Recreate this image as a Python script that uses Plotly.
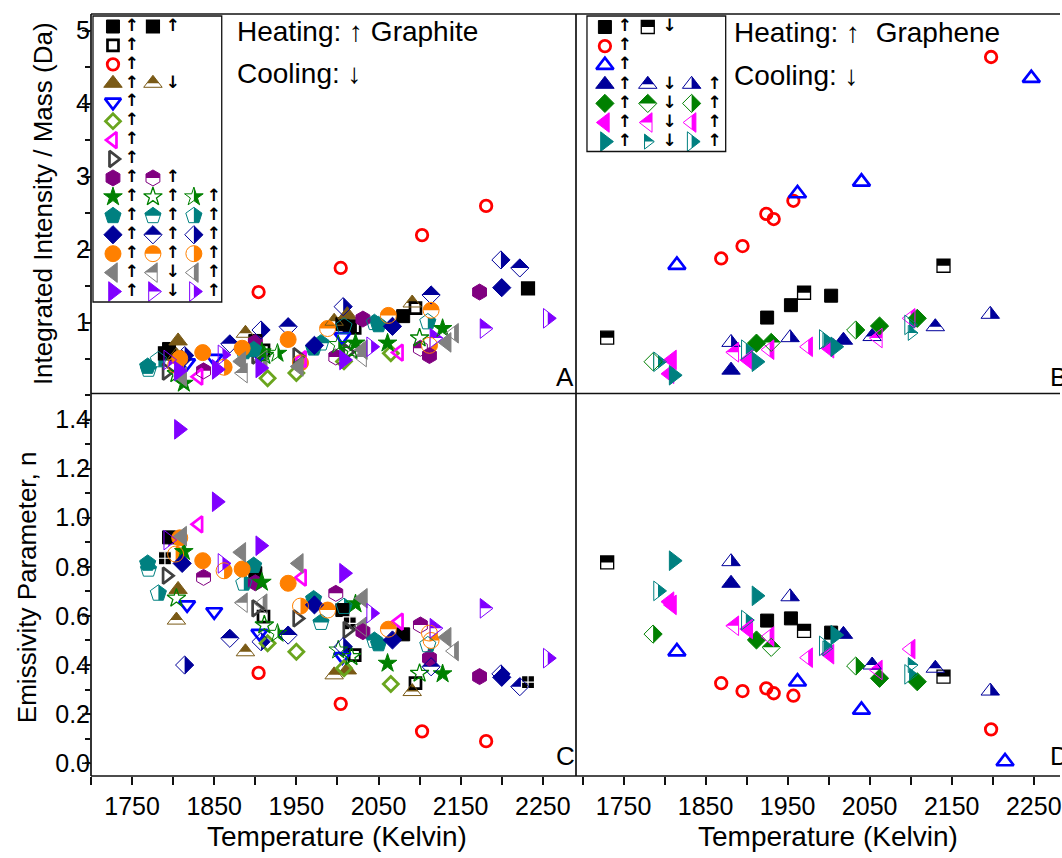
import math
import plotly.graph_objects as go

# ---------------- data : graphite (panels A and C) ----------------
g_sq1_T=[1795,1900,2006,2080]; g_sq1_I=[0.64,0.75,0.98,1.09]; g_sq1_N=[0.92,0.774,0.624,0.525]
g_sq2_T=[1790,2015,2232]; g_sq2_I=[0.58,0.95,1.47]; g_sq2_N=[0.835,0.57,0.33]
g_sqo_T=[1910,2021,2095]; g_sqo_I=[0.62,0.93,1.20]; g_sqo_N=[0.597,0.44,0.326]
g_cir_T=[1904,2004,2103,2181]; g_cir_I=[1.42,1.75,2.20,2.60]; g_cir_N=[0.368,0.242,0.13,0.09]
g_tri_T=[1806,2012]; g_tri_I=[0.75,1.11]; g_tri_N=[0.708,0.38]
g_trit_T=[1804,1888,1996,2091]; g_trit_I=[0.55,0.855,1.02,1.27]; g_trit_N=[0.583,0.454,0.36,0.292]
g_dtr_T=[1817,1850,1905,2006]; g_dtr_I=[0.45,0.51,0.56,0.81]; g_dtr_N=[0.645,0.617,0.529,0.434]
g_dio_T=[1915,1950,2008,2065]; g_dio_I=[0.24,0.31,0.47,0.58]; g_dio_N=[0.489,0.454,0.387,0.323]
g_lto_T=[1831,1957,2075]; g_lto_I=[0.26,0.50,0.59]; g_lto_N=[0.973,0.756,0.577]
g_rto_T=[1792,1901,1951,2012]; g_rto_I=[0.33,0.55,0.54,0.60]; g_rto_N=[0.764,0.631,0.590,0.543]
g_hex_T=[1900,2031,2112,2173]; g_hex_I=[0.73,1.05,0.55,1.42]; g_hex_N=[0.735,0.536,0.428,0.353]
g_hext_T=[1837,1998,2101]; g_hext_I=[0.34,0.53,0.65]; g_hext_N=[0.757,0.692,0.563]
g_sta_T=[1813,1908,2022,2061,2128]; g_sta_I=[0.17,0.60,0.72,0.72,0.92]; g_sta_N=[0.862,0.737,0.649,0.407,0.364]
g_stao_T=[1804,1911,2017,2100]; g_stao_I=[0.30,0.55,0.62,0.79]; g_stao_N=[0.672,0.563,0.434,0.366]
g_star_T=[1927,2001]; g_star_I=[0.58,0.70]; g_star_N=[0.529,0.461]
g_pen_T=[1769,1898,1971,2050]; g_pen_I=[0.40,0.63,0.65,0.97]; g_pen_N=[0.814,0.805,0.669,0.486]
g_pent_T=[1770,1980,2045]; g_pent_I=[0.36,0.72,1.00]; g_pent_N=[0.79,0.573,0.50]
g_penr_T=[1782,1886,2008,2110]; g_penr_I=[0.49,0.60,0.95,1.01]; g_penr_N=[0.692,0.733,0.638,0.482]
g_dia_T=[1811,1972,2067,2200]; g_dia_I=[0.50,0.69,0.95,1.48]; g_dia_N=[0.814,0.645,0.502,0.35]
g_diat_T=[1869,1940,2114,2222]; g_diat_I=[0.71,0.945,1.38,1.75]; g_diat_N=[0.509,0.522,0.393,0.312]
g_diar_T=[1814,1907,2007,2199]; g_diar_I=[0.55,0.90,1.22,1.86]; g_diar_N=[0.400,0.495,0.475,0.364]
g_orc_T=[1808,1836,1884,1940]; g_orc_I=[0.51,0.59,0.65,0.77]; g_orc_N=[0.918,0.825,0.791,0.733]
g_orct_T=[1988,2062,2114]; g_orct_I=[0.92,1.10,1.17]; g_orct_N=[0.624,0.546,0.50]
g_orcr_T=[1803,1862,1955,2112]; g_orcr_I=[0.42,0.39,0.45,0.69]; g_orcr_N=[0.852,0.784,0.640,0.53]
g_glt_T=[1811,1883,1953,2031,2133]; g_glt_I=[0.26,0.47,0.40,0.63,0.73]; g_glt_N=[0.925,0.859,0.814,0.672,0.513]
g_gltt_T=[1885,2030]; g_gltt_I=[0.31,0.53]; g_gltt_N=[0.654,0.556]
g_gltr_T=[1909,2142]; g_gltr_I=[0.49,0.855]; g_gltr_N=[0.65,0.457]
g_vrt_T=[1807,1853,1906,2008]; g_vrt_I=[0.34,0.36,0.38,0.49]; g_vrt_N=[1.36,1.065,0.886,0.774]
g_vrtt_T=[2118,2179]; g_vrtt_I=[0.79,0.92]; g_vrtt_N=[0.550,0.631]
g_vrtr_T=[1794,1860,2041,2256]; g_vrtr_I=[0.49,0.56,0.67,1.06]; g_vrtr_N=[0.909,0.814,0.611,0.428]

# ---------------- data : graphene (panels B and D) ----------------
e_sq_T=[1925,1954,2003]; e_sq_I=[1.07,1.24,1.37]; e_sq_N=[0.581,0.590,0.532]
e_sqt_T=[1730,1970,2140]; e_sqt_I=[0.795,1.41,1.78]; e_sqt_N=[0.818,0.539,0.353]
e_cir_T=[1869,1895,1924,1933,1957,2198]; e_cir_I=[1.88,2.05,2.49,2.42,2.67,4.64]; e_cir_N=[0.326,0.294,0.305,0.285,0.275,0.138]
e_tro_T=[1815,1962,2040,2247]; e_tro_I=[1.79,2.77,2.93,4.35]
e_tro_TN=[1815,1962,2040,2215]; e_tro_N=[0.455,0.332,0.217,0.007]
e_tri_T=[1881,2018]; e_tri_I=[0.35,0.76]; e_tri_N=[0.733,0.525]
e_trit_T=[2053,2130]; e_trit_I=[0.81,0.945]; e_trit_N=[0.40,0.387]
e_trir_T=[1881,1953,2197]; e_trir_I=[0.73,0.795,1.115]; e_trir_N=[0.821,0.678,0.294]
e_dia_T=[1912,2062,2108]; e_dia_I=[0.72,0.955,1.06]; e_dia_N=[0.502,0.346,0.332]
e_diat_T=[1930]; e_diat_I=[0.73]; e_diat_N=[0.472]
e_diar_T=[1786,2033]; e_diar_I=[0.465,0.90]; e_diar_N=[0.526,0.396]
e_lt_T=[1806,1809,1902,2001]; e_lt_I=[0.30,0.49,0.49,0.65]; e_lt_N=[0.658,0.645,0.547,0.444]
e_ltt_T=[1885,2060]; e_ltt_I=[0.595,0.79]; e_ltt_N=[0.56,0.38]
e_ltr_T=[1928,1975,2100]; e_ltr_I=[0.63,0.67,1.06]; e_ltr_N=[0.516,0.43,0.465]
e_rt_T=[1811,1912,2008]; e_rt_I=[0.28,0.465,0.67]; e_rt_N=[0.825,0.682,0.522]
e_rtt_T=[1997,2101]; e_rtt_I=[0.76,0.86]; e_rtt_N=[0.468,0.40]
e_rtr_T=[1792,1899,1994,2098]; e_rtr_I=[0.465,0.63,0.77,0.97]; e_rtr_N=[0.702,0.583,0.478,0.362]

# axis ticks
Y_TOP_TICKS = [1, 2, 3, 4, 5]
Y_BOT_TICKS = [0.0, 0.2, 0.4, 0.6, 0.8, 1.0, 1.2, 1.4]
Y_TOP_TITLE = "Integrated Intensity / Mass (Da)"
Y_BOT_TITLE = "Emissivity Parameter, n"
X_TITLE = "Temperature (Kelvin)"

# ---------------- styles ----------------
BLACK='#000000'; RED='#ff0000'; BROWN='#7a5a16'; BLUE='#0000ff'; YG='#6aa51e'; MAG='#ff00ff'
DGRAY='#404040'; PURPLE='#800080'; GREEN='#008000'; TEAL='#008080'; NAVY='#00009a'
ORANGE='#ff8000'; GRAY='#808080'; VIOLET='#8000ff'

# (T, I, N, symbol, colour, fill, size, linewidth, legend row, legend col, arrow)
GRAPHITE = [
    (g_sq1_T,g_sq1_I,g_sq1_N,'square',BLACK,'full',13,1,0,0,'↑'),
    (g_sq2_T,g_sq2_I,g_sq2_N,'square',BLACK,'cross',13,1.2,0,1,'↑'),
    (g_sqo_T,g_sqo_I,g_sqo_N,'square',BLACK,'open',11,2.7,1,0,'↑'),
    (g_cir_T,g_cir_I,g_cir_N,'circle',RED,'open',11.5,2.8,2,0,'↑'),
    (g_tri_T,g_tri_I,g_tri_N,'triangle-up',BROWN,'full',16,1,3,0,'↑'),
    (g_trit_T,g_trit_I,g_trit_N,'triangle-up',BROWN,'top',16,1,3,1,'↓'),
    (g_dtr_T,g_dtr_I,g_dtr_N,'triangle-down',BLUE,'open',14,2.7,4,0,'↑'),
    (g_dio_T,g_dio_I,g_dio_N,'diamond',YG,'open',11.5,2.8,5,0,'↑'),
    (g_lto_T,g_lto_I,g_lto_N,'triangle-left',MAG,'open',14,2.7,6,0,'↑'),
    (g_rto_T,g_rto_I,g_rto_N,'triangle-right',DGRAY,'open',14,2.7,7,0,'↑'),
    (g_hex_T,g_hex_I,g_hex_N,'hexagon',PURPLE,'full',16,1,8,0,'↑'),
    (g_hext_T,g_hext_I,g_hext_N,'hexagon',PURPLE,'top',16,1,8,1,'↑'),
    (g_sta_T,g_sta_I,g_sta_N,'star',GREEN,'full',14,1,9,0,'↑'),
    (g_stao_T,g_stao_I,g_stao_N,'star',GREEN,'open',14,1.3,9,1,'↑'),
    (g_star_T,g_star_I,g_star_N,'star',GREEN,'right',14,1,9,2,'↑'),
    (g_pen_T,g_pen_I,g_pen_N,'pentagon',TEAL,'full',17,1,10,0,'↑'),
    (g_pent_T,g_pent_I,g_pent_N,'pentagon',TEAL,'top',17,1,10,1,'↑'),
    (g_penr_T,g_penr_I,g_penr_N,'pentagon',TEAL,'right',17,1,10,2,'↑'),
    (g_dia_T,g_dia_I,g_dia_N,'diamond',NAVY,'full',14,1,11,0,'↑'),
    (g_diat_T,g_diat_I,g_diat_N,'diamond',NAVY,'top',14,1,11,1,'↑'),
    (g_diar_T,g_diar_I,g_diar_N,'diamond',NAVY,'right',14,1,11,2,'↑'),
    (g_orc_T,g_orc_I,g_orc_N,'circle',ORANGE,'full',16,1,12,0,'↑'),
    (g_orct_T,g_orct_I,g_orct_N,'circle',ORANGE,'top',16,1,12,1,'↑'),
    (g_orcr_T,g_orcr_I,g_orcr_N,'circle',ORANGE,'right',16,1,12,2,'↑'),
    (g_glt_T,g_glt_I,g_glt_N,'triangle-left',GRAY,'full',17,1,13,0,'↑'),
    (g_gltt_T,g_gltt_I,g_gltt_N,'triangle-left',GRAY,'top',17,1,13,1,'↓'),
    (g_gltr_T,g_gltr_I,g_gltr_N,'triangle-left',GRAY,'right',17,1,13,2,'↑'),
    (g_vrt_T,g_vrt_I,g_vrt_N,'triangle-right',VIOLET,'full',17,1,14,0,'↑'),
    (g_vrtt_T,g_vrtt_I,g_vrtt_N,'triangle-right',VIOLET,'top',17,1,14,1,'↓'),
    (g_vrtr_T,g_vrtr_I,g_vrtr_N,'triangle-right',VIOLET,'right',17,1,14,2,'↑'),
]
GRAPHENE = [
    (e_sq_T,e_sq_I,e_sq_N,'square',BLACK,'full',13,1,0,0,'↑'),
    (e_sqt_T,e_sqt_I,e_sqt_N,'square',BLACK,'top',13,1.3,0,1,'↓'),
    (e_cir_T,e_cir_I,e_cir_N,'circle',RED,'open',11.5,2.8,1,0,'↑'),
    (e_tro_T,e_tro_I,e_tro_N,'triangle-up',BLUE,'open',15,2.7,2,0,'↑'),
    (e_tri_T,e_tri_I,e_tri_N,'triangle-up',NAVY,'full',16,1,3,0,'↑'),
    (e_trit_T,e_trit_I,e_trit_N,'triangle-up',NAVY,'top',16,1,3,1,'↓'),
    (e_trir_T,e_trir_I,e_trir_N,'triangle-up',NAVY,'right',16,1,3,2,'↑'),
    (e_dia_T,e_dia_I,e_dia_N,'diamond',GREEN,'full',14,1,4,0,'↑'),
    (e_diat_T,e_diat_I,e_diat_N,'diamond',GREEN,'top',14,1,4,1,'↓'),
    (e_diar_T,e_diar_I,e_diar_N,'diamond',GREEN,'right',14,1,4,2,'↑'),
    (e_lt_T,e_lt_I,e_lt_N,'triangle-left',MAG,'full',17,1,5,0,'↑'),
    (e_ltt_T,e_ltt_I,e_ltt_N,'triangle-left',MAG,'top',17,1,5,1,'↓'),
    (e_ltr_T,e_ltr_I,e_ltr_N,'triangle-left',MAG,'right',17,1,5,2,'↑'),
    (e_rt_T,e_rt_I,e_rt_N,'triangle-right',TEAL,'full',17,1,6,0,'↑'),
    (e_rtt_T,e_rtt_I,e_rtt_N,'triangle-right',TEAL,'top',13,1,6,1,'↓'),
    (e_rtr_T,e_rtr_I,e_rtr_N,'triangle-right',TEAL,'right',17,1,6,2,'↑'),
]
TN_OVERRIDE = {id(e_tro_T): e_tro_TN}

# ---------------- geometry ----------------
W, H = 1062, 858
ML, MT, MB = 91, 14, 82
PW, PH = W - ML, H - MT - MB
def fx(p): return (p - ML) / PW
def fy(p): return (H - MB - p) / PH
XS = fx(577)
YS = fy(393.5)
FONT = "Liberation Sans, Arial, sans-serif"

def sym_poly(sym, size):
    r = size / 2.0
    if sym == 'square':
        return [(r, r), (-r, r), (-r, -r), (r, -r)]
    if sym == 'circle':
        return [(r*math.cos(2*math.pi*k/48), r*math.sin(2*math.pi*k/48)) for k in range(48)]
    if sym == 'diamond':
        d = 1.3 * r
        return [(d, 0), (0, d), (-d, 0), (0, -d)]
    rt = r * 2 / math.sqrt(3); r2 = r / 2
    if sym == 'triangle-up':
        return [(-rt, r2), (rt, r2), (0, -r)]
    if sym == 'triangle-down':
        return [(-rt, -r2), (rt, -r2), (0, r)]
    if sym == 'triangle-left':
        return [(r2, -rt), (r2, rt), (-r, 0)]
    if sym == 'triangle-right':
        return [(-r2, -rt), (-r2, rt), (r, 0)]
    if sym == 'pentagon':
        x1, x2 = .951*r, .588*r
        return [(x1, -.309*r), (x2, .809*r), (-x2, .809*r), (-x1, -.309*r), (0, -r)]
    if sym == 'hexagon':
        x = r*math.sqrt(3)/2; y2 = r/2
        return [(x, -y2), (x, y2), (0, r), (-x, y2), (-x, -y2), (0, -r)]
    if sym == 'star':
        rs = 1.4 * r
        x1, x2, x3, x4 = .225*rs, .951*rs, .363*rs, .588*rs
        y0, y1, y3, y4, y5 = -rs, -.309*rs, .118*rs, .809*rs, .382*rs
        return [(x1, y1), (x2, y1), (x3, y3), (x4, y4), (0, y5), (-x4, y4),
                (-x3, y3), (-x2, y1), (-x1, y1), (0, y0)]
    raise ValueError(sym)

def clip(poly, f):
    out = []
    n = len(poly)
    for i in range(n):
        a, b = poly[i], poly[(i+1) % n]
        fa, fb = f(a), f(b)
        if fa >= 0:
            out.append(a)
        if (fa >= 0) != (fb >= 0):
            t = fa / (fa - fb)
            out.append((a[0] + t*(b[0]-a[0]), a[1] + t*(b[1]-a[1])))
    return out

def path_of(poly):
    return 'M ' + ' L '.join(f'{x:.2f},{-y:.2f}' for x, y in poly) + ' Z'

shapes = []
traces = []

def half_shapes(xs, ys, xref, yref, sym, size, color, fill):
    full = sym_poly(sym, size)
    half = clip(full, (lambda p: -p[1]) if fill == 'top' else (lambda p: p[0]))
    for x, y in zip(xs, ys):
        base = dict(type='path', xref=xref, yref=yref, xsizemode='pixel', ysizemode='pixel',
                    xanchor=x, yanchor=y, line=dict(width=0), layer='below')
        shapes.append(dict(base, path=path_of(full), fillcolor='white'))
        shapes.append(dict(base, path=path_of(half), fillcolor=color))

def marker_trace(xs, ys, xa, ya, sym, color, fill, size, lw):
    if fill == 'full':
        mk = dict(symbol=sym, size=size, color=color, line=dict(color=color, width=lw))
    elif fill == 'open':
        mk = dict(symbol=sym + '-open', size=size, color=color, line=dict(color=color, width=lw))
    elif fill == 'cross':
        mk = dict(symbol='square-cross', size=size, color=color, line=dict(color='white', width=lw))
    else:
        mk = dict(symbol=sym + '-open', size=size, color=color, line=dict(color=color, width=lw))
        half_shapes(xs, ys, xa, ya, sym, size, color, fill)
    traces.append(go.Scatter(x=xs, y=ys, mode='markers', marker=mk, xaxis=xa, yaxis=ya,
                             showlegend=False, hoverinfo='x+y'))

def add_group(group, xt, yt, xb, yb, xl, yl, row0, dy, cols):
    arrows_x, arrows_y, arrows_t = [], [], []
    for (T, I, N, sym, color, fill, size, lw, row, col, arr) in group:
        TN = TN_OVERRIDE.get(id(T), T)
        top_fill = 'full' if fill == 'cross' else fill
        marker_trace(T, I, xt, yt, sym, color, top_fill, size, lw)
        marker_trace(TN, N, xb, yb, sym, color, fill, size, lw)
        ly = row0 + dy * row
        marker_trace([cols[2*col]], [ly], xl, yl, sym, color, top_fill, size, lw)
        arrows_x.append(cols[2*col + 1]); arrows_y.append(ly); arrows_t.append(arr)
    traces.append(go.Scatter(x=arrows_x, y=arrows_y, text=arrows_t, mode='text',
                             textfont=dict(size=17, color='black', family="DejaVu Sans", weight='bold'),
                             xaxis=xl, yaxis=yl, showlegend=False, hoverinfo='skip'))

add_group(GRAPHITE, 'x', 'y', 'x3', 'y3', 'x5', 'y5', 12.5, 18.93, [22, 41, 62, 82, 103, 123])
add_group(GRAPHENE, 'x2', 'y2', 'x4', 'y4', 'x6', 'y6', 13.0, 19.1, [29, 49, 72, 94, 116, 139])

fig = go.Figure(traces)

LINE = dict(color='#111111', width=1.7)
for (x0, y0, x1, y1) in [(0, 1, 1, 1), (0, 0, 1, 0), (0, 0, 0, 1), (XS, 0, XS, 1), (0, YS, 1, YS)]:
    shapes.append(dict(type='line', xref='paper', yref='paper', x0=x0, y0=y0, x1=x1, y1=y1,
                       line=LINE, layer='above'))
shapes.append(dict(type='rect', xref='paper', yref='paper', x0=fx(93), x1=fx(222), y0=fy(302), y1=fy(16),
                   line=dict(color='#111111', width=1.3), fillcolor='rgba(0,0,0,0)', layer='above'))
shapes.append(dict(type='rect', xref='paper', yref='paper', x0=fx(588), x1=fx(727), y0=fy(151.5), y1=fy(16),
                   line=dict(color='#111111', width=1.3), fillcolor='rgba(0,0,0,0)', layer='above'))
# major y tick marks (outside, 9 px) at the labelled values
for yref, vals in (('y', Y_TOP_TICKS), ('y3', Y_BOT_TICKS)):
    for v in vals:
        shapes.append(dict(type='line', xref='paper', yref=yref, xsizemode='pixel', xanchor=0,
                           x0=-9, x1=0, y0=v, y1=v, line=dict(color='#111111', width=1.5), layer='above'))

TICKFONT = dict(family=FONT, size=25, color='black')
common = dict(showgrid=False, zeroline=False, showline=False, fixedrange=True)
xr_left = [1700, 2290.4]
xr_right = [1692, 2282]
yr_top = [0.03, 5.229]
yr_bot = [-0.052, 1.506]
xtick = dict(ticks='outside', ticklen=8, tickwidth=1.5, tickcolor='#111', tick0=1750, dtick=100,
             tickfont=TICKFONT, ticklabeloverflow='allow',
             minor=dict(ticks='outside', ticklen=8, tickwidth=1.5, dtick=50, tick0=1700, tickcolor='#111'))
fig.update_layout(
    width=W, height=H, margin=dict(l=ML, r=0, t=MT, b=MB),
    paper_bgcolor='white', plot_bgcolor='rgba(0,0,0,0)', showlegend=False,
    font=dict(family=FONT, color='black'),
    xaxis=dict(common, domain=[0, XS], range=xr_left, anchor='y', showticklabels=False, ticks=''),
    yaxis=dict(common, domain=[YS, 1], range=yr_top, anchor='x', ticks='', tickmode='array',
               tickvals=Y_TOP_TICKS, ticktext=[str(v) for v in Y_TOP_TICKS], tickfont=TICKFONT,
               minor=dict(ticks='outside', ticklen=5, tickwidth=1.5, dtick=0.5, tick0=0, tickcolor='#111')),
    xaxis2=dict(common, domain=[XS, 1], range=xr_right, anchor='y2', showticklabels=False, ticks=''),
    yaxis2=dict(common, domain=[YS, 1], range=yr_top, anchor='x2', showticklabels=False, ticks=''),
    xaxis3=dict(common, domain=[0, XS], range=xr_left, anchor='y3', **xtick),
    yaxis3=dict(common, domain=[0, YS], range=yr_bot, anchor='x3', ticks='', tickmode='array',
                tickvals=Y_BOT_TICKS, ticktext=[f"{v:.1f}" for v in Y_BOT_TICKS], tickfont=TICKFONT,
                minor=dict(ticks='outside', ticklen=5, tickwidth=1.5, dtick=0.1, tick0=0, tickcolor='#111')),
    xaxis4=dict(common, domain=[XS, 1], range=xr_right, anchor='y4', **xtick),
    yaxis4=dict(common, domain=[0, YS], range=yr_bot, anchor='x4', showticklabels=False, ticks=''),
    xaxis5=dict(domain=[0, XS], range=[0, 485.5], anchor='y5', visible=False, fixedrange=True),
    yaxis5=dict(domain=[YS, 1], range=[379.5, 0], anchor='x5', visible=False, fixedrange=True),
    xaxis6=dict(domain=[XS, 1], range=[0, 485.5], anchor='y6', visible=False, fixedrange=True),
    yaxis6=dict(domain=[YS, 1], range=[379.5, 0], anchor='x6', visible=False, fixedrange=True),
    shapes=shapes,
)

ANN = []
def ann(text, xp, yp, size=25, xanchor='center', angle=0):
    ANN.append(dict(text=text, x=fx(xp), y=fy(yp), xref='paper', yref='paper', showarrow=False,
                    xanchor=xanchor, yanchor='middle', textangle=angle,
                    font=dict(family=FONT, size=size, color='black')))
ann(Y_TOP_TITLE, 43, 204, size=26, angle=-90)
ann(Y_BOT_TITLE, 27, 587, size=26, angle=-90)
ann(X_TITLE, 338, 836, size=28)
ann(X_TITLE, 830, 836, size=28)
ann("Heating: <b>↑</b> Graphite", 235, 31, size=28, xanchor='left')
ann("Cooling: <b>↓</b>", 235, 73, size=28, xanchor='left')
ann("Heating: <b>↑</b>  Graphene", 733, 33, size=28, xanchor='left')
ann("Cooling: <b>↓</b>", 733, 75, size=28, xanchor='left')
ann("A", 566, 377, size=26)
ann("C", 566, 756, size=26)
ann("B", 1050, 377, size=26, xanchor='left')
ann("D", 1050, 756, size=26, xanchor='left')
fig.update_layout(annotations=ANN)

fig.write_html("out.html")
